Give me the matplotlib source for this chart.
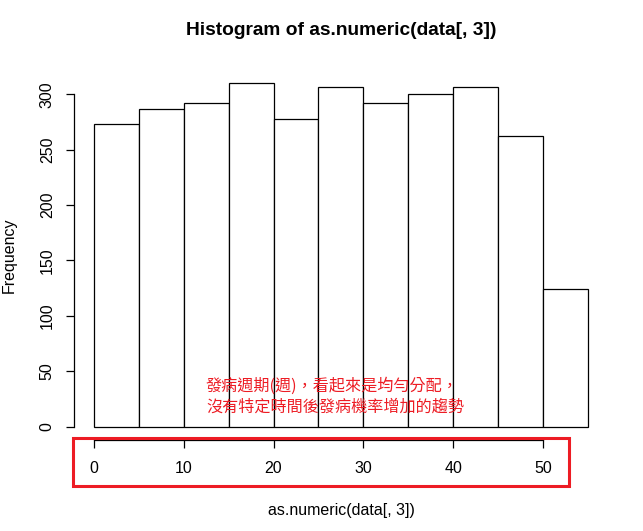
import numpy as np
import matplotlib
matplotlib.use("Agg")
import matplotlib.pyplot as plt
from matplotlib.patches import Rectangle

# histogram of onset week (bins of 5)
breaks = [0, 5, 10, 15, 20, 25, 30, 35, 40, 45, 50, 55]
counts = [273, 287, 292, 310, 278, 307, 292, 300, 307, 262, 124]
xticks = [0, 10, 20, 30, 40, 50]
yticks = [0, 50, 100, 150, 200, 250, 300]
title = "Histogram of as.numeric(data[, 3])"
xlab = "as.numeric(data[, 3])"
ylab = "Frequency"
note = ["發病週期(週)，看起來是均勻分配，",
        "沒有特定時間後發病機率增加的趨勢"]

W, H = 643, 531
plt.rcParams['font.family'] = ['Liberation Sans', 'DejaVu Sans']

fig = plt.figure(figsize=(W / 100, H / 100), dpi=100)
# plot region in pixels (R style: 4% padding around data range)
left, right, top, bottom = 74.2, 607.6, 69.5, 440.4
ax = fig.add_axes([left / W, 1 - bottom / H, (right - left) / W, (bottom - top) / H])

lefts = np.array(breaks[:-1])
widths = np.diff(breaks)
ax.bar(lefts, counts, width=widths, align='edge', facecolor='white',
       edgecolor='black', linewidth=0.9)

xr = breaks[-1] - breaks[0]
ax.set_xlim(breaks[0] - 0.04 * xr, breaks[-1] + 0.04 * xr)
yr = max(counts)
ax.set_ylim(-0.04 * yr, yr * 1.04)

for s in ['top', 'right']:
    ax.spines[s].set_visible(False)
ax.spines['left'].set_bounds(yticks[0], yticks[-1])
ax.spines['bottom'].set_bounds(xticks[0], xticks[-1])
ax.spines['left'].set_linewidth(0.9)
ax.spines['bottom'].set_linewidth(0.9)

ax.set_xticks(xticks)
ax.set_yticks(yticks)
ax.tick_params(direction='out', length=6, width=0.9, labelsize=11.5)
ax.tick_params(axis='x', pad=9)
ax.tick_params(axis='y', pad=8)
for lab in ax.get_yticklabels():
    lab.set_rotation(90)
    lab.set_va('center')

fig.text(341 / W, 1 - 31 / H, title, ha='center', va='center',
         fontsize=13.8, fontweight='bold')
fig.text(341 / W, 1 - 510 / H, xlab, ha='center', va='center', fontsize=11.5)
fig.text(9 / W, 1 - 255 / H, ylab, ha='center', va='center', rotation=90,
         fontsize=11.5)

red = '#ED1C24'
for i, line in enumerate(note):
    fig.text(206 / W, 1 - (385.7 + 21.6 * i) / H, line, ha='left', va='center',
             fontsize=11.6, color=red,
             family=['Noto Sans CJK TC', 'DejaVu Sans'])

# red box drawn around the x axis
rx0, ry0, rx1, ry1 = 72.7, 437.7, 569.0, 485.5
fig.add_artist(Rectangle((rx0 / W, 1 - ry1 / H), (rx1 - rx0) / W, (ry1 - ry0) / H,
                         transform=fig.transFigure, fill=False,
                         edgecolor=red, linewidth=2.2))

fig.savefig("out.png", dpi=100)
